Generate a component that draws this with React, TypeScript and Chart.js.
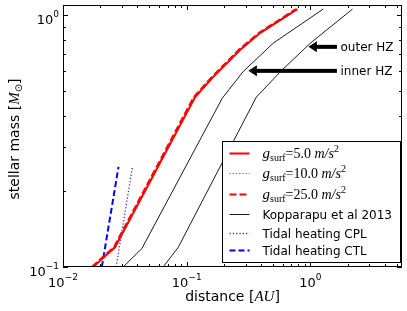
import React, { useEffect, useRef } from "react";
import { Chart, registerables } from "chart.js";
Chart.register(...registerables);

// ---- data ----
const massRed = [0.1, 0.12, 0.474, 0.57, 0.73, 0.853, 1.06];
const distG5 = [0.0175, 0.0264, 0.117, 0.164, 0.271, 0.394, 0.785];
const distG10 = [0.0173, 0.0261, 0.1155, 0.162, 0.268, 0.389, 0.775];
const distG25 = [0.0171, 0.0258, 0.114, 0.16, 0.264, 0.384, 0.765];

const massHZInner = [0.1, 0.1184, 0.469, 0.598, 0.776, 1.06];
const distHZInner = [0.0306, 0.0434, 0.194, 0.286, 0.501, 1.27];
const massHZOuter = [0.1, 0.1196, 0.474, 0.608, 0.776, 1.06];
const distHZOuter = [0.0645, 0.0853, 0.366, 0.593, 1.0, 2.19];

const massTidal = [0.1, 0.25];
const distCPL = [0.0269, 0.0364];
const distCTL = [0.0206, 0.0281];

const xMajorTicks = [0.01, 0.1, 1];
const xTickExponents = ["\u22122", "\u22121", "0"];
const yMajorTicks = [0.1, 1];
const yTickExponents = ["\u22121", "0"];

const arrowLabels = ["outer HZ", "inner HZ"];
const arrowMass = [0.75, 0.602];
const arrowTip = [0.963, 0.315];
const arrowTail = [1.639, 1.639];
const arrowTextX = 1.75;

const X_MIN = 0.01, X_MAX = 5.5, Y_MIN = 0.1, Y_MAX = 1.1;

const SANS = '"DejaVu Sans"';
const SERIF = '"Liberation Serif"';

type Seg = { t: string; f: string; dy?: number };

function segsWidth(ctx: CanvasRenderingContext2D, segs: Seg[]) {
  let w = 0;
  for (const s of segs) {
    ctx.font = s.f;
    w += ctx.measureText(s.t).width;
  }
  return w;
}
function drawSegs(ctx: CanvasRenderingContext2D, segs: Seg[], x: number, y: number) {
  let cx = x;
  for (const s of segs) {
    ctx.font = s.f;
    ctx.fillText(s.t, cx, y + (s.dy || 0));
    cx += ctx.measureText(s.t).width;
  }
}

const pts = (xs: number[], ys: number[]) => xs.map((x, i) => ({ x, y: ys[i] }));

const gLabel = (v: string): Seg[] => [
  { t: "g", f: `italic 15px ${SERIF}` },
  { t: "surf", f: `10px ${SERIF}`, dy: 3 },
  { t: "=" + v + " ", f: `14px ${SERIF}` },
  { t: "m/s", f: `italic 14px ${SERIF}` },
  { t: "2", f: `10px ${SERIF}`, dy: -6 },
];

export default function App() {
  const ref = useRef<HTMLCanvasElement | null>(null);
  useEffect(() => {
    if (!ref.current) return;
    const datasets: any[] = [
      { label: "g5", data: pts(distG5, massRed), borderColor: "#ff0000", borderWidth: 2, borderDash: [] },
      { label: "g10", data: pts(distG10, massRed), borderColor: "#ff3030", borderWidth: 1.2, borderDash: [1.2, 2] },
      { label: "g25", data: pts(distG25, massRed), borderColor: "#ff0000", borderWidth: 2, borderDash: [7, 3] },
      { label: "Kopparapu et al 2013", data: pts(distHZInner, massHZInner), borderColor: "#000000", borderWidth: 0.9, borderDash: [] },
      { label: "outer", data: pts(distHZOuter, massHZOuter), borderColor: "#000000", borderWidth: 0.9, borderDash: [] },
      { label: "Tidal heating CPL", data: pts(distCPL, massTidal), borderColor: "#3535ff", borderWidth: 1.3, borderDash: [1.3, 2] },
      { label: "Tidal heating CTL", data: pts(distCTL, massTidal), borderColor: "#0000ff", borderWidth: 2, borderDash: [6, 3] },
    ];
    datasets.forEach((d) => {
      d.pointRadius = 0;
      d.fill = false;
      d.tension = 0;
    });

    const legendItems: { ds: number; segs: Seg[] }[] = [
      { ds: 0, segs: gLabel("5.0") },
      { ds: 1, segs: gLabel("10.0") },
      { ds: 2, segs: gLabel("25.0") },
      { ds: 3, segs: [{ t: "Kopparapu et al 2013", f: `12px ${SANS}` }] },
      { ds: 5, segs: [{ t: "Tidal heating CPL", f: `12px ${SANS}` }] },
      { ds: 6, segs: [{ t: "Tidal heating CTL", f: `12px ${SANS}` }] },
    ];
    const legendRowOffsets = [12, 32, 53, 73, 92, 109];

    const decor = {
      id: "decor",
      afterDatasetsDraw(chart: any) {
        const ctx: CanvasRenderingContext2D = chart.ctx;
        const ca = chart.chartArea;
        const xs = chart.scales.x;
        const ys = chart.scales.y;
        ctx.save();
        ctx.fillStyle = "#000";
        ctx.strokeStyle = "#000";
        ctx.textBaseline = "alphabetic";
        ctx.textAlign = "left";

        // arrows
        for (let i = 0; i < arrowLabels.length; i++) {
          const y = ys.getPixelForValue(arrowMass[i]);
          const tip = xs.getPixelForValue(arrowTip[i]);
          const tail = xs.getPixelForValue(arrowTail[i]);
          const head = 8.5;
          ctx.fillRect(tip + head - 0.5, y - 2, tail - tip - head + 0.5, 4);
          ctx.beginPath();
          ctx.moveTo(tip, y);
          ctx.lineTo(tip + head, y - 5.5);
          ctx.lineTo(tip + head, y + 5.5);
          ctx.closePath();
          ctx.fill();
          ctx.font = `12px ${SANS}`;
          ctx.fillText(arrowLabels[i], xs.getPixelForValue(arrowTextX), y + 4.5);
        }

        // frame
        ctx.lineWidth = 1;
        ctx.setLineDash([]);
        ctx.strokeRect(Math.round(ca.left) + 0.5, Math.round(ca.top) + 0.5, Math.round(ca.right - ca.left) - 1, Math.round(ca.bottom - ca.top) - 1);

        // ticks (inward, all four sides)
        const tick = (p: number, len: number, horiz: boolean) => {
          ctx.beginPath();
          if (horiz) {
            const px = Math.round(p) + 0.5;
            ctx.moveTo(px, ca.bottom);
            ctx.lineTo(px, ca.bottom - len);
            ctx.moveTo(px, ca.top);
            ctx.lineTo(px, ca.top + len);
          } else {
            const py = Math.round(p) + 0.5;
            ctx.moveTo(ca.left, py);
            ctx.lineTo(ca.left + len, py);
            ctx.moveTo(ca.right, py);
            ctx.lineTo(ca.right - len, py);
          }
          ctx.stroke();
        };
        for (let e = -3; e <= 1; e++) {
          for (let k = 1; k <= 9; k++) {
            const v = k * Math.pow(10, e);
            if (v >= X_MIN * 0.999 && v <= X_MAX) tick(xs.getPixelForValue(v), k === 1 ? 5 : 3, true);
            if (v >= Y_MIN * 0.999 && v <= Y_MAX) tick(ys.getPixelForValue(v), k === 1 ? 5 : 3, false);
          }
        }

        // tick labels
        xMajorTicks.forEach((v, i) => {
          const segs: Seg[] = [
            { t: "10", f: `13px ${SANS}` },
            { t: xTickExponents[i], f: `9px ${SANS}`, dy: -7 },
          ];
          const w = segsWidth(ctx, segs);
          drawSegs(ctx, segs, xs.getPixelForValue(v) - w / 2, ca.bottom + 20);
        });
        yMajorTicks.forEach((v, i) => {
          const segs: Seg[] = [
            { t: "10", f: `13px ${SANS}` },
            { t: yTickExponents[i], f: `9px ${SANS}`, dy: -7 },
          ];
          const w = segsWidth(ctx, segs);
          drawSegs(ctx, segs, ca.left - 4 - w, ys.getPixelForValue(v) + 8.5);
        });

        // axis titles
        const xt: Seg[] = [
          { t: "distance [", f: `14px ${SANS}` },
          { t: "AU", f: `italic 15px ${SERIF}` },
          { t: "]", f: `14px ${SANS}` },
        ];
        const xw = segsWidth(ctx, xt);
        drawSegs(ctx, xt, (ca.left + ca.right) / 2 - xw / 2, ca.bottom + 34);

        const yt: Seg[] = [
          { t: "stellar mass [", f: `14px ${SANS}` },
          { t: "M", f: `italic 15px ${SERIF}` },
          { t: "\u2299", f: `10px ${SANS}`, dy: 3 },
          { t: "]", f: `14px ${SANS}` },
        ];
        const yw = segsWidth(ctx, yt);
        ctx.save();
        ctx.translate(19, (ca.top + ca.bottom) / 2 + 3);
        ctx.rotate(-Math.PI / 2);
        drawSegs(ctx, yt, -yw / 2, 0);
        ctx.restore();

        // legend
        const bw = 178, bh = 121;
        const bx = Math.round(ca.right - 2 - bw) + 0.5;
        const by = Math.round(ca.bottom - 5 - bh) + 0.5;
        ctx.fillStyle = "#fff";
        ctx.fillRect(bx, by, bw, bh);
        ctx.strokeStyle = "#000";
        ctx.lineWidth = 1;
        ctx.strokeRect(bx, by, bw, bh);
        legendItems.forEach((it, i) => {
          const ds = datasets[it.ds];
          const y = by + legendRowOffsets[i];
          ctx.beginPath();
          ctx.strokeStyle = ds.borderColor;
          ctx.lineWidth = ds.borderWidth;
          ctx.setLineDash(ds.borderDash);
          ctx.moveTo(bx + 7, y);
          ctx.lineTo(bx + 27, y);
          ctx.stroke();
          ctx.setLineDash([]);
          ctx.fillStyle = "#000";
          drawSegs(ctx, it.segs, bx + 40, y + 4.5);
        });
        ctx.restore();
      },
    };

    const chart = new Chart(ref.current, {
      type: "line",
      data: { datasets },
      options: {
        animation: false,
        responsive: false,
        devicePixelRatio: 1,
        layout: { padding: { left: 63, top: 5, right: 5, bottom: 44 } },
        plugins: { legend: { display: false }, tooltip: { enabled: false } },
        scales: {
          x: { type: "logarithmic", min: X_MIN, max: X_MAX, display: false },
          y: { type: "logarithmic", min: Y_MIN, max: Y_MAX, display: false },
        },
      } as any,
      plugins: [decor],
    });
    return () => chart.destroy();
  }, []);

  return (
    <div style={{ position: "fixed", left: 0, top: 0, width: 407, height: 311, background: "#fff" }}>
      <canvas ref={ref} width={407} height={311} style={{ width: 407, height: 311, display: "block" }} />
    </div>
  );
}
